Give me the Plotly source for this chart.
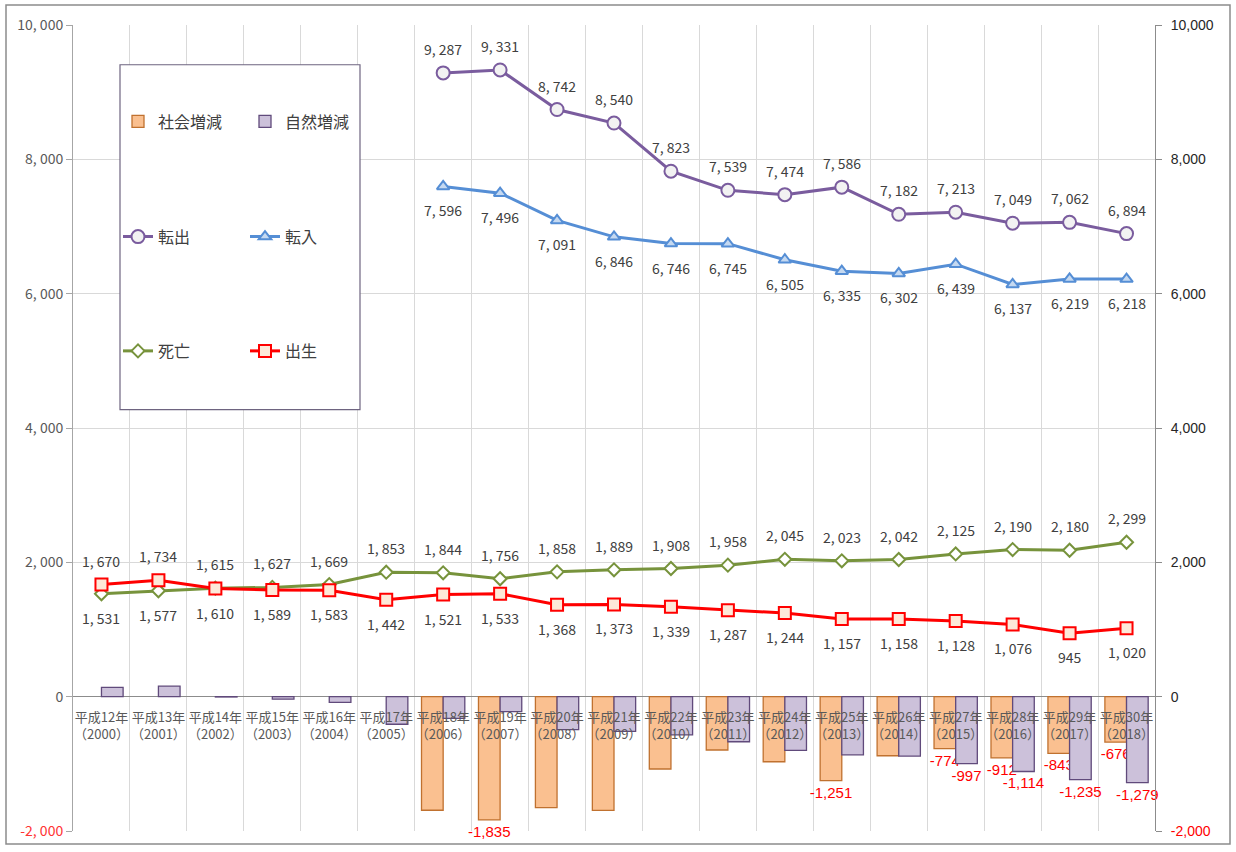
import plotly.graph_objects as go

# ---------------- data ----------------
years_jp = ["平成12年", "平成13年", "平成14年", "平成15年", "平成16年", "平成17年", "平成18年",
            "平成19年", "平成20年", "平成21年", "平成22年", "平成23年", "平成24年", "平成25年",
            "平成26年", "平成27年", "平成28年", "平成29年", "平成30年"]
years_ad = [2000, 2001, 2002, 2003, 2004, 2005, 2006, 2007, 2008, 2009,
            2010, 2011, 2012, 2013, 2014, 2015, 2016, 2017, 2018]

birth = [1670, 1734, 1610, 1589, 1583, 1442, 1521, 1533, 1368, 1373,
         1339, 1287, 1244, 1157, 1158, 1128, 1076, 945, 1020]
death = [1531, 1577, 1615, 1627, 1669, 1853, 1844, 1756, 1858, 1889,
         1908, 1958, 2045, 2023, 2042, 2125, 2190, 2180, 2299]
move_out = [None, None, None, None, None, None, 9287, 9331, 8742, 8540,
            7823, 7539, 7474, 7586, 7182, 7213, 7049, 7062, 6894]
move_in = [None, None, None, None, None, None, 7596, 7496, 7091, 6846,
           6746, 6745, 6505, 6335, 6302, 6439, 6137, 6219, 6218]
social = [None, None, None, None, None, None, -1691, -1835, -1651, -1694,
          -1077, -794, -969, -1251, -880, -774, -912, -843, -676]
natural = [139, 157, -5, -38, -86, -411, -323, -223, -490, -516,
           -569, -671, -801, -866, -884, -997, -1114, -1235, -1279]

social_labeled_years = [2007, 2013, 2015, 2016, 2017, 2018]
natural_labeled_years = [2015, 2016, 2017, 2018]
birth_label_above_years = [2000, 2001]

y_ticks = [-2000, 0, 2000, 4000, 6000, 8000, 10000]
y_range = [-2000, 10000]

# ---------------- build ----------------
cats = [f"{j}<br>（{a}）" for j, a in zip(years_jp, years_ad)]

def fmt_sp(v):
    return f"{v:,}".replace(",", ", ")

def bar_text(vals, labeled):
    return [f"{v:,}" if (v is not None and y in labeled) else "" for v, y in zip(vals, years_ad)]

JP = "Noto Sans CJK JP"
fig = go.Figure()

fig.add_trace(go.Bar(
    x=cats, y=social, name="社会増減", legend="legend",
    marker=dict(color="#FAC090", line=dict(color="#C0712F", width=1.3)),
    text=bar_text(social, social_labeled_years), textposition="outside",
    textangle=0, constraintext="none", cliponaxis=False,
    textfont=dict(color="#FF0000", size=15, family="Liberation Sans"),
    yaxis="y"))
fig.add_trace(go.Bar(
    x=cats, y=natural, name="自然増減", legend="legend",
    marker=dict(color="#CCC1DA", line=dict(color="#604A7B", width=1.3)),
    text=bar_text(natural, natural_labeled_years), textposition="outside",
    textangle=0, constraintext="none", cliponaxis=False,
    textfont=dict(color="#FF0000", size=15, family="Liberation Sans"),
    yaxis="y"))

line_specs = [
    ("転出", move_out, "#7A5C9E", "circle", 13, "#F2F2F2", "legend2"),
    ("転入", move_in, "#558ED5", "triangle-up", 11, "#C5D9F1", "legend2"),
    ("死亡", death, "#77933C", "diamond", 10, "#FFFFFF", "legend3"),
    ("出生", birth, "#FF0000", "square", 12, "#FDE9D9", "legend3"),
]
for name, vals, col, sym, size, fill, lg in line_specs:
    fig.add_trace(go.Scatter(
        x=cats, y=vals, name=name, legend=lg, mode="lines+markers",
        line=dict(color=col, width=3),
        marker=dict(symbol=sym, size=size, color=fill, line=dict(color=col, width=2)),
        cliponaxis=False, yaxis="y2"))

annotations = []
def add_labels(vals, shifts):
    for c, v, s in zip(cats, vals, shifts):
        if v is None:
            continue
        annotations.append(dict(x=c, y=v, xref="x", yref="y2", text=fmt_sp(v),
                                showarrow=False, yshift=s,
                                font=dict(family=JP, size=14, color="#404040")))

add_labels(move_out, [24] * len(cats))
add_labels(move_in, [-24] * len(cats))
add_labels(birth, [24 if y in birth_label_above_years else -24 for y in years_ad])
add_labels(death, [-24 if y in birth_label_above_years else 24 for y in years_ad])

left_text = [fmt_sp(v) for v in y_ticks]
right_text = [f"{v:,}" for v in y_ticks]
left_text = [f"<span style='color:#FF3333'>{t}</span>" if v < 0 else t for t, v in zip(left_text, y_ticks)]
right_text = [f"<span style='color:#FF0000'>{t}</span>" if v < 0 else t for t, v in zip(right_text, y_ticks)]

# plot-area geometry (px) used to place legend box
W, H = 1236, 852
ml, mr, mt, mb = 73, 81, 25, 16
pw, ph = W - ml - mr, H - mt - mb
def px_x(x):
    return (x - ml) / pw
def px_y(y):
    return 1 - (y - mt) / ph

legend_common = dict(orientation="h", bgcolor="rgba(0,0,0,0)", entrywidth=82,
                     font=dict(family=JP, size=16, color="#404040"),
                     xanchor="left", yanchor="middle", x=px_x(118), itemclick=False)

fig.update_layout(
    width=W, height=H,
    margin=dict(l=ml, r=mr, t=mt, b=mb),
    paper_bgcolor="white", plot_bgcolor="white",
    barmode="group", bargap=0.24, bargroupgap=0,
    font=dict(family=JP, color="#595959"),
    xaxis=dict(type="category", anchor="free", position=(0 - y_range[0]) / (y_range[1] - y_range[0]),
               range=[-0.5, len(cats) - 0.5], tickangle=0, ticklabelstandoff=11,
               showgrid=True, gridcolor="#D9D9D9", tickson="boundaries", ticks="",
               showline=False, tickfont=dict(family=JP, size=13, color="#595959"),
               zeroline=False),
    yaxis=dict(range=y_range, tickvals=y_ticks, ticktext=left_text, showgrid=True,
               gridcolor="#D9D9D9", zeroline=True, zerolinecolor="#8C8C8C", zerolinewidth=1,
               showline=True, linecolor="#A6A6A6", ticks="outside", ticklen=6,
               tickcolor="#A6A6A6", tickfont=dict(family=JP, size=14, color="#595959")),
    yaxis2=dict(range=y_range, tickvals=y_ticks, ticktext=right_text, overlaying="y",
                side="right", showgrid=False, zeroline=False, showline=True,
                linecolor="#8C8C8C", ticks="outside", ticklen=6, tickcolor="#8C8C8C",
                ticklabelstandoff=6,
                tickfont=dict(family="Liberation Sans", size=14, color="#262626")),
    legend=dict(legend_common, y=px_y(122)),
    legend2=dict(legend_common, y=px_y(238)),
    legend3=dict(legend_common, y=px_y(353)),
    annotations=annotations,
    shapes=[
        dict(type="rect", xref="paper", yref="paper", x0=px_x(120), x1=px_x(360),
             y0=px_y(412), y1=px_y(65), fillcolor="white",
             line=dict(color="#6E6480", width=1.2), layer="above"),
        dict(type="rect", xref="paper", yref="paper", x0=px_x(6), x1=px_x(1230),
             y0=px_y(849), y1=px_y(5), fillcolor="rgba(0,0,0,0)",
             line=dict(color="#8C8C8C", width=1.5), layer="below"),
    ],
)

fig.write_html("out.html", config={"displayModeBar": False},
               post_script="document.body.style.margin='0';")
